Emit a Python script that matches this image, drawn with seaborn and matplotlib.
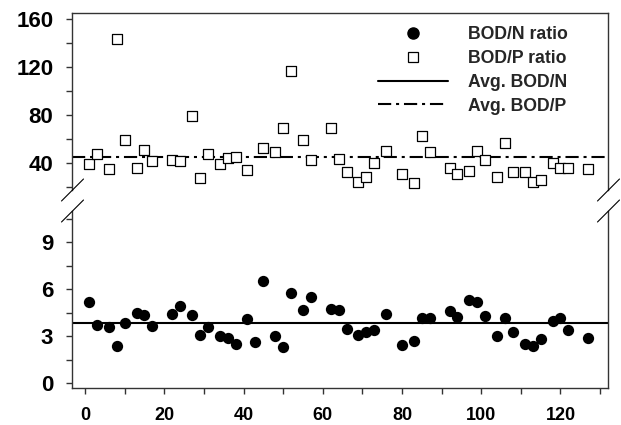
import numpy as np
import pandas as pd
import matplotlib
matplotlib.use("Agg")
import matplotlib.pyplot as plt
from matplotlib.lines import Line2D
import seaborn as sns

# Sampling day index for each measurement
day = [1, 3, 6, 8, 10, 13, 15, 17, 22, 24, 27, 29, 31, 34, 36, 38, 41, 43, 45, 48,
       50, 52, 55, 57, 62, 64, 66, 69, 71, 73, 76, 80, 83, 85, 87, 92, 94, 97, 99, 101,
       104, 106, 108, 111, 113, 115, 118, 120, 122, 127]

bod_n = [5.2, 3.75, 3.6, 2.4, 3.85, 4.5, 4.35, 3.65, 4.45, 4.95, 4.35, 3.1, 3.6, 3.05,
         2.9, 2.5, 4.1, 2.65, 6.5, 3.05, 2.35, 5.75, 4.65, 5.5, 4.75, 4.65, 3.45, 3.1,
         3.25, 3.4, 4.45, 2.45, 2.7, 4.15, 4.15, 4.6, 4.25, 5.3, 5.2, 4.3, 3.05, 4.15,
         3.25, 2.5, 2.4, 2.85, 3.95, 4.15, 3.4, 2.9]

bod_p = [39, 48, 35.5, 143, 59.5, 36, 51, 41.5, 43, 41.5, 79.5, 27.5, 47.5, 39.5,
         44, 45.5, 34.5, np.nan, 53, 49.5, 69, 117, 59, 43, 69, 43.5, 33, 24.5, 29,
         40, 50, 31, 23.5, 62.5, 49.5, 36.5, 31.5, 33.5, 50, 43, 28.5, 56.5, 33, 33,
         24.5, 26.5, 40.5, 36.5, 36, 35]

avg_bod_n = 3.83
avg_bod_p = 45.5

df = pd.DataFrame({"day": day, "bod_n": bod_n, "bod_p": bod_p})

sns.set_style("ticks")
plt.rcParams["font.family"] = ["Liberation Sans", "DejaVu Sans"]
plt.rcParams["font.weight"] = "bold"
plt.rcParams["lines.scale_dashes"] = False

W, H = 621, 425
fig = plt.figure(figsize=(W / 100, H / 100), dpi=100)

left, right = 72 / W, 608 / W
ax_top = fig.add_axes([left, 1 - 190 / H, right - left, (190 - 12.7) / H])
ax_bot = fig.add_axes([left, 1 - 387.7 / H, right - left, (387.7 - 211) / H])

spine_col = "#333333"
dashdot = (0, (9.5, 3.5, 2.2, 3.5))

# Upper panel: BOD/P ratio
sns.scatterplot(data=df, x="day", y="bod_p", ax=ax_top, marker="s", s=50,
                facecolor="white", edgecolor="black", linewidth=0.9, zorder=3)
ax_top.axhline(avg_bod_p, color="black", lw=1.5, linestyle=dashdot, zorder=2)

# Lower panel: BOD/N ratio
sns.scatterplot(data=df, x="day", y="bod_n", ax=ax_bot, marker="o", s=66,
                color="black", edgecolor="black", linewidth=0, zorder=3)
ax_bot.axhline(avg_bod_n, color="black", lw=1.5, zorder=2)

for ax in (ax_top, ax_bot):
    ax.set_xlim(-3.3, 132)
    ax.set_xlabel("")
    ax.set_ylabel("")
    for sp in ax.spines.values():
        sp.set_color(spine_col)
        sp.set_linewidth(1.0)
    ax.tick_params(which="both", direction="out", length=4.5, width=1.0,
                   color=spine_col, labelcolor="black")

ax_top.set_ylim(17.8, 165.2)
ax_top.set_yticks([40, 80, 120, 160])
ax_top.set_yticks([20, 60, 100, 140], minor=True)
ax_top.spines["bottom"].set_visible(False)
ax_top.tick_params(axis="x", which="both", bottom=False, labelbottom=False)
ax_top.tick_params(axis="y", labelsize=16, pad=9)
for t in ax_top.get_yticklabels():
    t.set_fontweight("bold")

ax_bot.set_ylim(-0.28, 11.0)
ax_bot.set_yticks([0, 3, 6, 9])
ax_bot.set_yticks([1.5, 4.5, 7.5, 10.5], minor=True)
ax_bot.set_xticks([0, 20, 40, 60, 80, 100, 120])
ax_bot.set_xticks([10, 30, 50, 70, 90, 110, 130], minor=True)
ax_bot.spines["top"].set_visible(False)
ax_bot.tick_params(axis="y", labelsize=16, pad=9)
ax_bot.tick_params(axis="x", labelsize=13, pad=9.5)
for t in ax_bot.get_yticklabels() + ax_bot.get_xticklabels():
    t.set_fontweight("bold")

# Axis break marks
for xc in (72.5, 608.5):
    for yc in (190, 211):
        fig.add_artist(Line2D([(xc - 11) / W, (xc + 11) / W],
                              [1 - (yc + 11) / H, 1 - (yc - 11) / H],
                              color="black", lw=0.8, transform=fig.transFigure))

handles = [
    Line2D([], [], marker="o", linestyle="none", color="black", markersize=8),
    Line2D([], [], marker="s", linestyle="none", markerfacecolor="white",
           markeredgecolor="black", markersize=7, markeredgewidth=0.9),
    Line2D([], [], color="black", lw=1.5),
    Line2D([], [], color="black", lw=1.5, linestyle=dashdot),
]
labels = ["BOD/N ratio", "BOD/P ratio", "Avg. BOD/N", "Avg. BOD/P"]
ax_top.legend(handles, labels, loc="upper left", bbox_to_anchor=(378 / W, 1 - 26 / H),
              bbox_transform=fig.transFigure, frameon=False, handlelength=3.97,
              handletextpad=1.13, labelspacing=0.39, borderpad=0, borderaxespad=0,
              prop={"size": 12.7, "weight": "bold"})

fig.savefig("out.png", dpi=100)
